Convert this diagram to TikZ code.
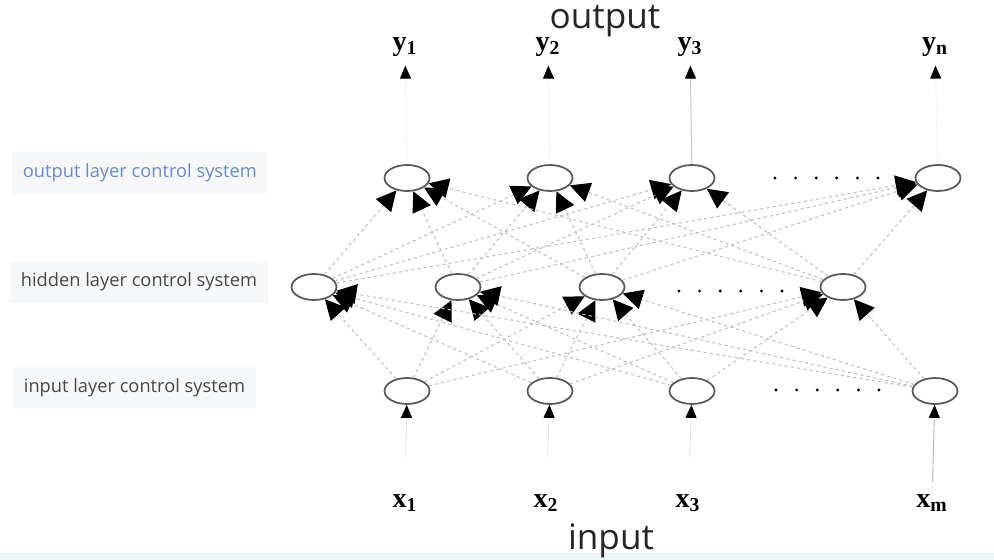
\documentclass[tikz,border=0pt]{standalone}
\usepackage{fontspec}
\setmainfont{Liberation Serif}
\setsansfont{Open Sans}
\usetikzlibrary{arrows.meta,shapes.geometric}

\definecolor{labelblue}{RGB}{104,138,208}
\definecolor{labelgray}{RGB}{72,72,72}
\definecolor{boxgray}{RGB}{247,248,250}
\definecolor{bandcyan}{RGB}{236,245,246}

\tikzset{
	neuron/.style={ellipse, draw=gray!70!black, line width=1pt, minimum width=0.9cm, minimum height=0.52cm, inner sep=0pt},
	link/.style={draw=gray!50, line width=0.6pt, dash pattern=on 1.8pt off 1.8pt, -{Triangle[length=0.4cm,width=0.4cm,color=black]}},
	feed/.style={draw=gray!45, line width=0.5pt, -{Triangle[length=0.26cm,width=0.22cm,color=black]}},
	layerlabel/.style={font=\sffamily\fontsize{10.4}{13}\selectfont, fill=boxgray, anchor=west, inner xsep=6pt, inner ysep=7pt},
	varlabel/.style={font=\fontsize{16}{18}\selectfont\bfseries, inner sep=1pt},
	iolabel/.style={font=\sffamily\fontsize{20}{24}\selectfont, text=black!85},
}

\begin{document}
\begin{tikzpicture}[x=0.02cm, y=-0.02cm]
\useasboundingbox (0,0) rectangle (994,560);
\fill[bandcyan] (0,553) rectangle (994,560);

% rows
\pgfmathsetmacro{\rowOut}{178}
\pgfmathsetmacro{\rowHid}{287}
\pgfmathsetmacro{\rowIn}{391}

% layer labels
\node[layerlabel, text=labelblue] (lblout) at (12,\rowOut-5) {output layer control system};
\node[layerlabel, text=labelgray] (lblhid) at (10,\rowHid-5) {hidden layer control system};
\node[layerlabel, text=labelgray] (lblin) at (13,\rowIn-3) {input layer control system};

% neurons
\foreach \nx [count=\i] in {407,550,692,938}
	\node[neuron] (out\i) at (\nx,\rowOut) {};
\foreach \nx [count=\i] in {314,458,602,843}
	\node[neuron] (hid\i) at (\nx,\rowHid) {};
\foreach \nx [count=\i] in {407,550,692,935}
	\node[neuron] (in\i) at (\nx,\rowIn) {};

% dots between neurons
\foreach \d in {0,...,5} {
	\fill (775+20.6*\d,\rowOut) circle (1.6);
	\fill (679+20.6*\d,\rowHid+4) circle (1.6);
	\fill (776+20.6*\d,\rowIn-1) circle (1.6);
}

% in/out labels
\node[iolabel] (output) at (605,21) {output};
\node[iolabel] (input) at (611,541) {input};
\node[varlabel] (y1) at (405,47) {y\textsubscript{1}};
\node[varlabel] (y2) at (548,47) {y\textsubscript{2}};
\node[varlabel] (y3) at (690,47) {y\textsubscript{3}};
\node[varlabel] (y4) at (935,47) {y\textsubscript{n}};
\node[varlabel] (x1) at (405,503) {x\textsubscript{1}};
\node[varlabel] (x2) at (546,503) {x\textsubscript{2}};
\node[varlabel] (x3) at (688,503) {x\textsubscript{3}};
\node[varlabel] (x4) at (932,503) {x\textsubscript{m}};

% connections
\foreach \i in {1,...,4}
	\foreach \j in {1,...,4} {
		\draw[link] (hid\i) -- (out\j);
		\draw[link] (in\i) -- (hid\j);
	}

\foreach \k in {1,2,4}
	\draw[feed, draw=gray!8, shorten >=4] (out\k) -- (y\k);
\draw[feed, shorten >=4] (out3) -- (y3);
\foreach \k in {1,2,3}
	\draw[feed, draw=gray!20, shorten <=20] (x\k) -- (in\k);
\draw[feed, draw=gray!60, shorten <=6] (x4) -- (in4);
\end{tikzpicture}
\end{document}
